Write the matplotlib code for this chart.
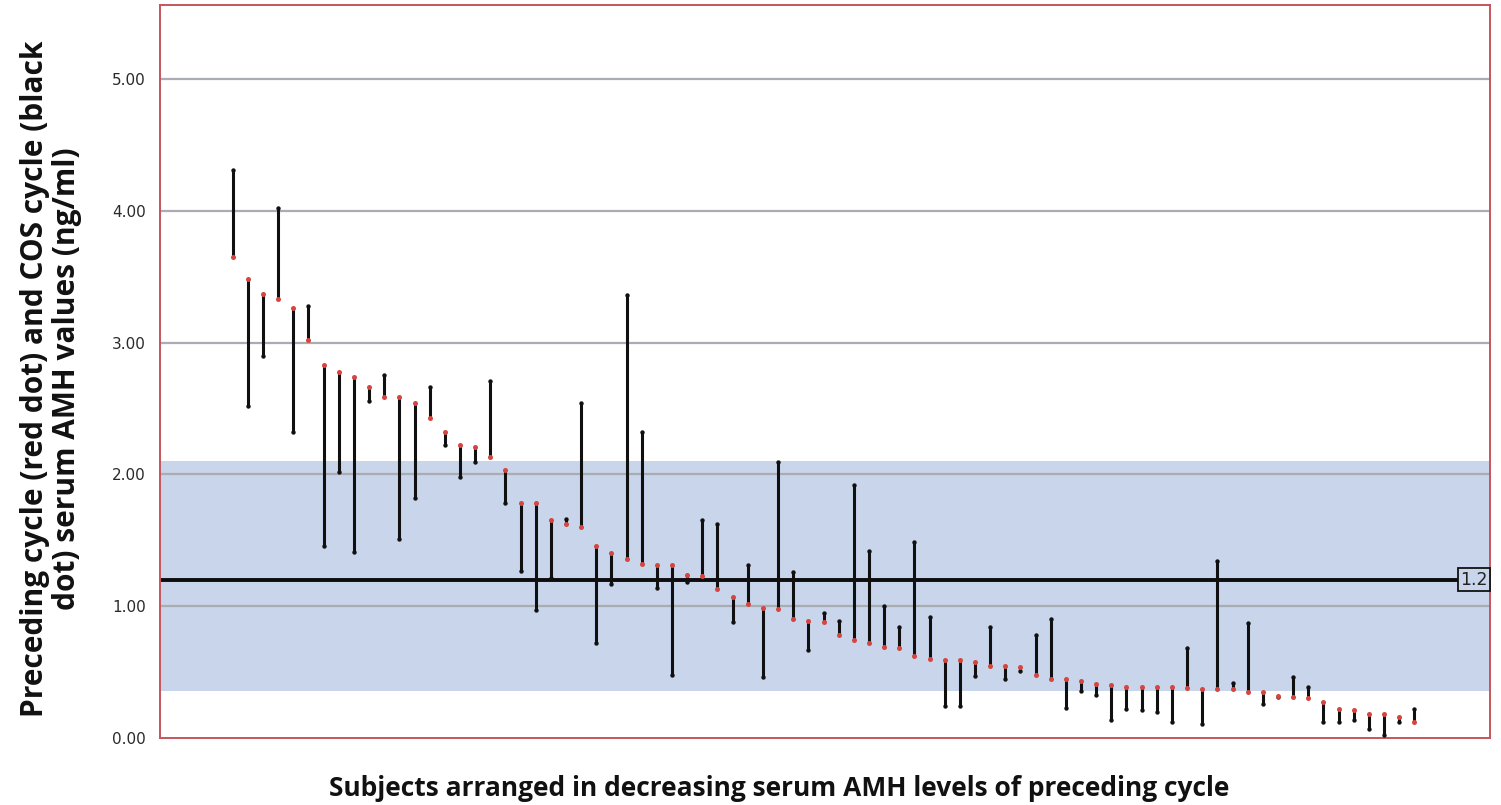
import matplotlib
matplotlib.use("Agg")
import matplotlib.pyplot as plt
import numpy as np

# Preceding cycle AMH (red dots), sorted decreasing
preceding = [3.65, 3.48, 3.37, 3.33, 3.26, 3.02, 2.83, 2.78, 2.74, 2.66,
             2.59, 2.59, 2.54, 2.43, 2.32, 2.22, 2.21, 2.13, 2.03, 1.78,
             1.78, 1.65, 1.62, 1.60, 1.46, 1.40, 1.36, 1.32, 1.31, 1.31,
             1.24, 1.23, 1.13, 1.07, 1.02, 0.99, 0.98, 0.90, 0.89, 0.88,
             0.78, 0.74, 0.72, 0.69, 0.68, 0.62, 0.60, 0.59, 0.59, 0.58,
             0.55, 0.55, 0.54, 0.48, 0.45, 0.45, 0.43, 0.41, 0.40, 0.39,
             0.39, 0.39, 0.39, 0.38, 0.37, 0.37, 0.37, 0.35, 0.35, 0.32,
             0.31, 0.30, 0.27, 0.22, 0.21, 0.18, 0.18, 0.16, 0.12]
# COS cycle AMH (black dots)
cos_cycle = [4.31, 2.52, 2.90, 4.02, 2.32, 3.28, 1.46, 2.02, 1.41, 2.56,
             2.75, 1.51, 1.82, 2.66, 2.22, 1.98, 2.09, 2.71, 1.78, 1.27,
             0.97, 1.21, 1.66, 2.54, 0.72, 1.17, 3.36, 2.32, 1.14, 0.48,
             1.18, 1.65, 1.62, 0.88, 1.31, 0.46, 2.09, 1.26, 0.67, 0.95,
             0.89, 1.92, 1.42, 1.00, 0.84, 1.49, 0.92, 0.24, 0.24, 0.47,
             0.84, 0.45, 0.51, 0.78, 0.90, 0.23, 0.36, 0.33, 0.14, 0.22,
             0.21, 0.20, 0.12, 0.68, 0.11, 1.34, 0.42, 0.87, 0.26, 0.31,
             0.46, 0.39, 0.12, 0.12, 0.14, 0.07, 0.02, 0.12, 0.22]
band_low, band_high = 0.36, 2.10
ref_value = 1.2
yticks = [0.0, 1.0, 2.0, 3.0, 4.0, 5.0]
ytick_labels = ["0.00", "1.00", "2.00", "3.00", "4.00", "5.00"]

subjects = np.arange(1, len(preceding) + 1)

fig = plt.figure(figsize=(15.01, 8.05), dpi=100)
ax = fig.add_axes([0.1066, 0.0832, 0.8861, 0.9106])

band_color = "#c9d5ea"
ax.axhspan(band_low, band_high, color=band_color, zorder=0, lw=0)
for t in yticks[1:]:
    ax.axhline(t, color="#a9adb3", lw=1.6, zorder=1)
ax.axhline(ref_value, color="#0d0d0d", lw=2.8, zorder=2)

for x, r, b in zip(subjects, preceding, cos_cycle):
    ax.plot([x, x], [r, b], color="#101010", lw=2.2, zorder=3, solid_capstyle="butt")
ax.scatter(subjects, cos_cycle, s=10, color="#101010", zorder=4, lw=0, marker="o")
ax.scatter(subjects, preceding, s=13, color="#d4463f", zorder=5, lw=0, marker="o")

ax.set_xlim(-3.8, 84.0)
ax.set_ylim(0, 5.56)
ax.set_xticks([])
ax.set_yticks(yticks)
ax.set_yticklabels(ytick_labels)
ax.tick_params(axis="y", length=0, pad=10)
for lab in ax.get_yticklabels():
    lab.set_family("DejaVu Sans")
    lab.set_fontsize(11)
    lab.set_color("#2a2a2a")
for s in ax.spines.values():
    s.set_color("#c8555c")
    s.set_linewidth(1.4)

ax.text(83.85, ref_value, "1.2", ha="right", va="center", fontsize=12.5,
        color="#222222", zorder=6,
        bbox=dict(boxstyle="square,pad=0.15", facecolor=band_color,
                  edgecolor="#111111", lw=1.3))

fig.text(0.034, 0.53, "Preceding cycle (red dot) and COS cycle (black\ndot) serum AMH values (ng/ml)",
         rotation=90, ha="center", va="center", fontsize=21.5, fontweight="bold",
         family="Open Sans", linespacing=1.05, color="#111111")
fig.text(0.519, 0.021, "Subjects arranged in decreasing serum AMH levels of preceding cycle",
         ha="center", va="center", fontsize=19, fontweight="bold",
         family="Open Sans", color="#111111")

fig.savefig("out.png", dpi=100)
